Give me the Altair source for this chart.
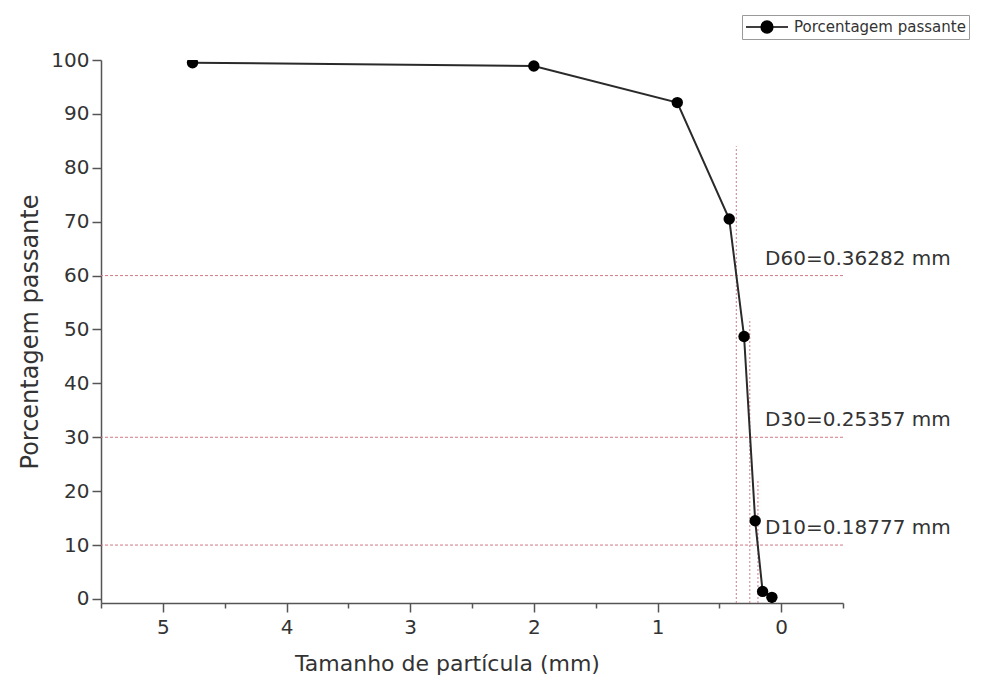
import altair as alt
import pandas as pd

# Curva granulométrica: tamanho da partícula (mm) x porcentagem passante (%)
tamanho_mm = [4.76, 2.00, 0.84, 0.42, 0.30, 0.21, 0.15, 0.075]
passante_pct = [99.5, 98.9, 92.1, 70.5, 48.7, 14.5, 1.4, 0.3]

# Diâmetros característicos
d_nomes = ["D60", "D30", "D10"]
d_pct = [60, 30, 10]
d_mm = [0.36282, 0.25357, 0.18777]
d_topo_guia = [84, 52, 22]

x_dominio = [5.5, -0.5]
y_dominio = [-0.75, 100]
x_ticks = [v / 2 for v in range(-1, 12)]
y_ticks = list(range(0, 101, 5))

serie = "Porcentagem passante"
FONT = "DejaVu Sans"
TXT = "#333333"

curva = pd.DataFrame({"tam": tamanho_mm, "pct": passante_pct, "serie": serie})
guias = pd.DataFrame({
    "nome": d_nomes, "pct": d_pct, "mm": d_mm, "topo": d_topo_guia,
    "base": y_dominio[0],
    "rotulo": [f"{n}={v} mm" for n, v in zip(d_nomes, d_mm)],
    "rot_x": 0.13,
})

x_scale = alt.Scale(domain=x_dominio, nice=False, zero=False)
y_scale = alt.Scale(domain=y_dominio, nice=False, zero=False)

x_axis = alt.Axis(
    title="Tamanho de partícula (mm)", values=x_ticks,
    labelExpr="datum.value % 1 === 0 ? format(datum.value, 'd') : ''",
    tickSize={"condition": {"test": "datum.value % 1 === 0", "value": 9}, "value": 5},
    grid=False, domainColor="#555555", tickColor="#555555", domainWidth=1.5, tickWidth=1.5,
    labelFont=FONT, labelFontSize=20, labelColor=TXT, labelPadding=5,
    titleFont=FONT, titleFontSize=22, titleFontWeight="normal", titleColor=TXT,
    titlePadding=16, titleX=346,
)
y_axis = alt.Axis(
    title="Porcentagem passante", values=y_ticks,
    labelExpr="datum.value % 10 === 0 ? datum.label : ''",
    tickSize={"condition": {"test": "datum.value % 10 === 0", "value": 9}, "value": 5},
    grid=False, domainColor="#555555", tickColor="#555555", domainWidth=1.5, tickWidth=1.5,
    labelFont=FONT, labelFontSize=20, labelColor=TXT, labelPadding=3,
    titleFont=FONT, titleFontSize=24, titleFontWeight="normal", titleColor=TXT,
    titlePadding=8,
)

base_g = alt.Chart(guias)

linhas_h = base_g.mark_rule(color="#d27884", strokeDash=[3, 2], strokeWidth=1).encode(
    y=alt.Y("pct:Q", scale=y_scale, axis=y_axis)
)
linhas_v = base_g.mark_rule(color="#cc7f89", strokeDash=[2, 2], strokeWidth=1).encode(
    x=alt.X("mm:Q", scale=x_scale, axis=x_axis),
    y=alt.Y("base:Q", scale=y_scale),
    y2="topo:Q",
)
rotulos = base_g.mark_text(
    align="left", baseline="middle", dy=-17, font=FONT, fontSize=20, color=TXT
).encode(
    x=alt.X("rot_x:Q", scale=x_scale),
    y=alt.Y("pct:Q", scale=y_scale),
    text="rotulo:N",
)

base_c = alt.Chart(curva)
linha = base_c.mark_line(color="#2a2a2a", strokeWidth=2, clip=True).encode(
    x=alt.X("tam:Q", scale=x_scale, axis=x_axis),
    y=alt.Y("pct:Q", scale=y_scale, axis=y_axis),
)
pontos = base_c.mark_point(filled=True, size=130, opacity=1, clip=True).encode(
    x=alt.X("tam:Q", scale=x_scale),
    y=alt.Y("pct:Q", scale=y_scale),
    color=alt.Color(
        "serie:N", scale=alt.Scale(range=["#000000"]),
        legend=alt.Legend(
            title=None, orient="none", legendX=641, legendY=-45,
            symbolType="M-1,0H-0.3M0.3,0H1M-0.28,0A0.28,0.28,0,1,0,0.28,0A0.28,0.28,0,1,0,-0.28,0Z",
            symbolSize=1764, symbolStrokeWidth=1.5, symbolStrokeColor="#000000",
            symbolFillColor="#000000", clipHeight=18,
            labelFont=FONT, labelFontSize=15, labelColor=TXT, labelOffset=5,
            labelLimit=400,
            strokeColor="#9a9a9a", fillColor="#ffffff", padding=3, cornerRadius=0,
        ),
    ),
)

chart = alt.layer(linhas_h, linhas_v, rotulos, linha, pontos).properties(
    width=742, height=543,
    autosize=alt.AutoSizeParams(type="none"),
    padding={"left": 101, "top": 60, "right": 138, "bottom": 85},
    background="#ffffff",
).configure_view(stroke=None)

chart.save("out.html", embed_options={"renderer": "svg", "actions": False})
